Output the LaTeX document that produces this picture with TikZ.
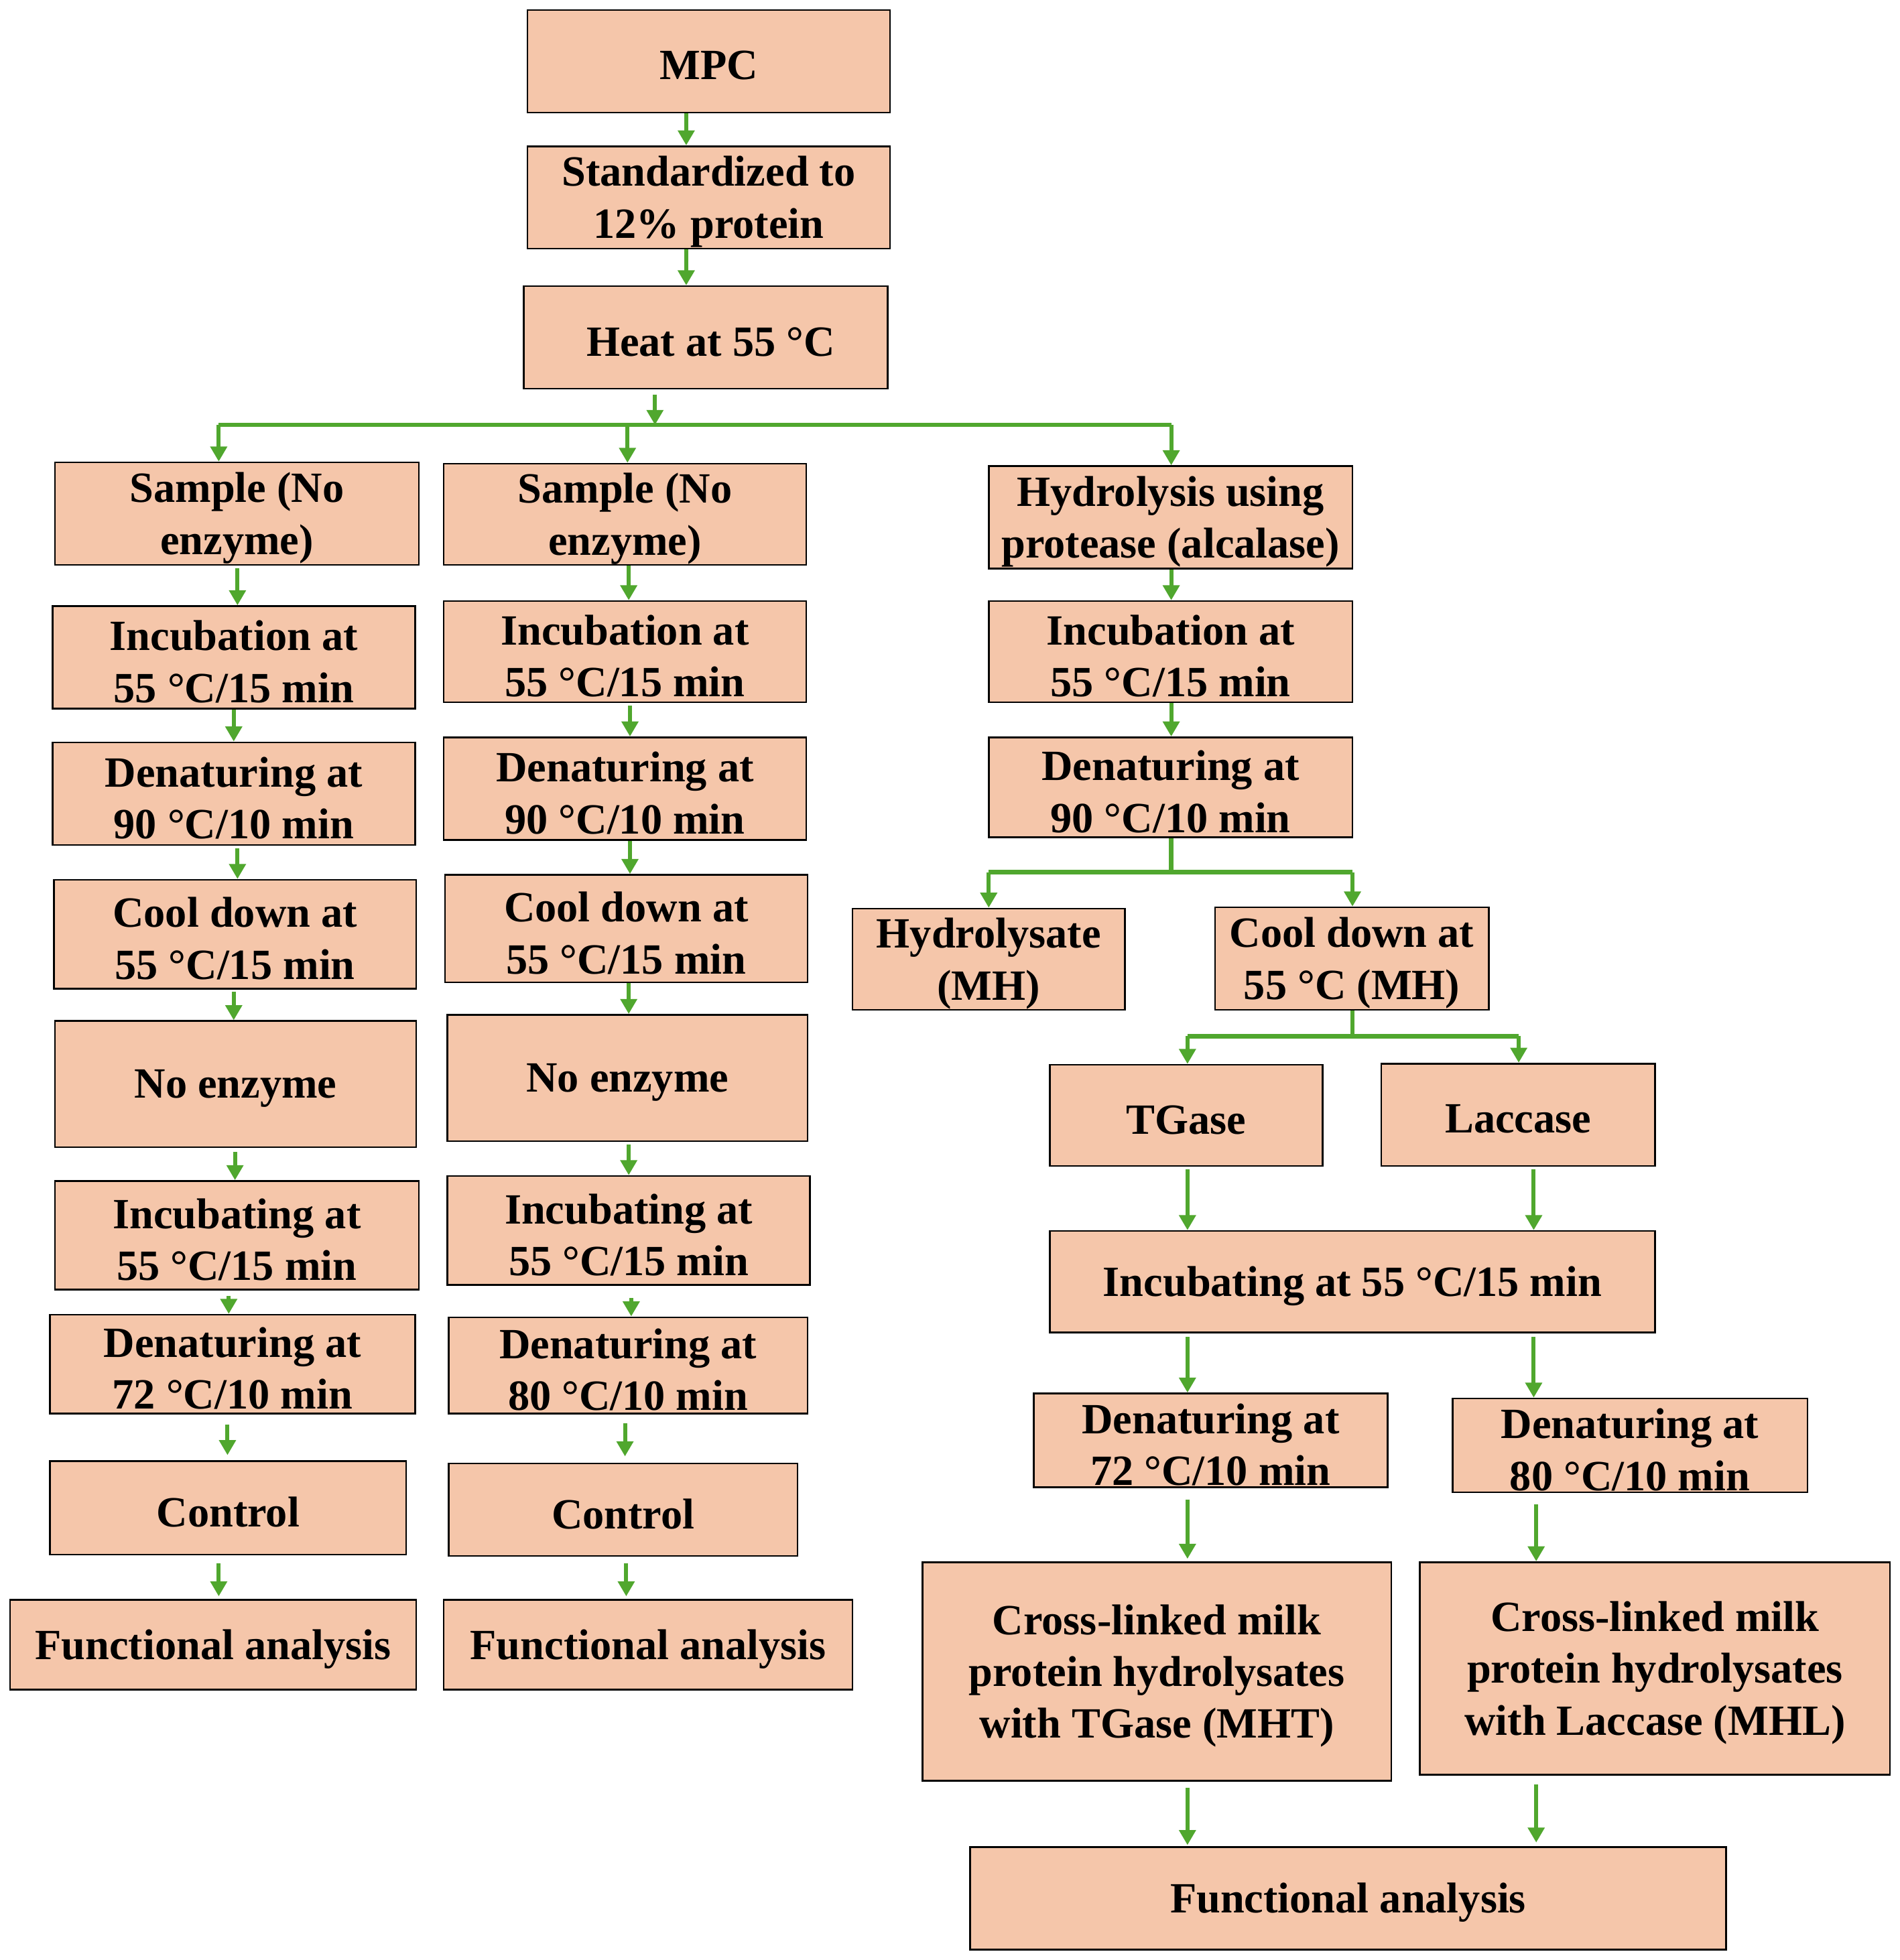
\documentclass[tikz,border=0pt]{standalone}
\usepackage{fontspec}
\setmainfont{Liberation Serif}
\usetikzlibrary{arrows.meta}
\definecolor{boxfill}{RGB}{245,198,170}
\definecolor{arrgreen}{RGB}{80,167,46}
\tikzset{
  box/.style={draw=black, line width=1.4pt, fill=boxfill, inner sep=0pt},
  txt/.style={inner sep=0pt, align=center, font=\fontsize{34.5}{41.5}\selectfont\bfseries},
  arr/.style={draw=arrgreen, line width=3.2pt, -{Triangle[width=13pt,length=12pt]}},
  gline/.style={draw=arrgreen, line width=3.6pt},
}
\newcommand{\bx}[6]{\node[box, minimum width=#4pt, minimum height=#5pt] (#1) at (#2,#3) {};
  \node[txt] (#1-t) at (#2,#3+3.5) {#6};}
\begin{document}
\begin{tikzpicture}[x=1pt,y=-1pt]
\useasboundingbox[fill=white] (0,0) rectangle (1520,1568.3);
% top
\bx{MPC}{567}{49}{290}{82}{MPC}
\bx{Std}{567}{158}{290}{82}{Standardized to\\12\% protein}
\bx{Heat}{564.5}{270}{291}{82}{\hspace*{8pt}Heat at 55 °C}
% column 1
\bx{Sa}{189.5}{411}{291}{82}{Sample (No\\enzyme)}
\bx{Ia}{187}{526}{290}{82}{Incubation at\\55 °C/15 min}
\bx{Da}{187}{635}{290}{82}{Denaturing at\\90 °C/10 min}
\bx{Ca}{188}{747.5}{290}{87}{Cool down at\\55 °C/15 min}
\bx{Na}{188.5}{867.5}{289}{101}{No enzyme}
\bx{Ja}{189.5}{988.5}{291}{87}{Incubating at\\55 °C/15 min}
\bx{Ea}{186}{1091.5}{292}{79}{Denaturing at\\72 °C/10 min}
\bx{Ka}{182.5}{1206.5}{285}{75}{Control}
\bx{Fa}{170.5}{1316}{325}{72}{Functional analysis}
% column 2
\bx{Sb}{500}{411.5}{290}{81}{Sample (No\\enzyme)}
\bx{Ib}{500}{521.5}{290}{81}{Incubation at\\55 °C/15 min}
\bx{Db}{500}{631}{290}{82}{Denaturing at\\90 °C/10 min}
\bx{Cb}{501}{743}{290}{86}{Cool down at\\55 °C/15 min}
\bx{Nb}{502}{862.5}{288}{101}{No enzyme}
\bx{Jb}{503}{984.5}{290}{87}{Incubating at\\55 °C/15 min}
\bx{Eb}{502.5}{1092.5}{287}{77}{Denaturing at\\80 °C/10 min}
\bx{Kb}{498.5}{1208}{279}{74}{Control}
\bx{Fb}{518.5}{1316}{327}{72}{Functional analysis}
% column 3
\bx{Hyd}{936.5}{414}{291}{82}{Hydrolysis using\\protease (alcalase)}
\bx{Ic}{936.5}{521.5}{291}{81}{Incubation at\\55 °C/15 min}
\bx{Dc}{936.5}{630}{291}{80}{Denaturing at\\90 °C/10 min}
\bx{MH}{791}{767.5}{218}{81}{Hydrolysate\\(MH)}
\bx{Cc}{1081.5}{767}{219}{82}{Cool down at\\55 °C (MH)}
\bx{TG}{949}{892.5}{218}{81}{TGase}
\bx{Lac}{1214.5}{892}{219}{82}{Laccase}
\bx{Id}{1082}{1025.5}{484}{81}{Incubating at 55 °C/15 min}
\bx{DT}{968.5}{1152.5}{283}{75}{Denaturing at\\72 °C/10 min}
\bx{DL}{1304}{1156.5}{284}{75}{Denaturing at\\80 °C/10 min}
\bx{MHT}{925.5}{1337.5}{375}{175}{Cross-linked milk\\protein hydrolysates\\with TGase (MHT)}
\bx{MHL}{1324}{1335}{376}{170}{Cross-linked milk\\protein hydrolysates\\with Laccase (MHL)}
\bx{Fc}{1078.5}{1519}{605}{82}{Functional analysis}
% top connectors
\draw[arr] (MPC.south -| 549,0) -- (Std.north -| 549,0);
\draw[arr] (Std.south -| 549,0) -- (Heat.north -| 549,0);
\coordinate (bl) at (175,340);
\coordinate (br) at (937,340);
\draw[arr, shorten <=4pt] (Heat.south -| 524,0) -- (524,340);
\draw[gline, line width=3pt] (bl) -- (br);
\draw[arr] (bl) -- (Sa.north -| bl);
\draw[arr] (502,341) -- (Sb.north -| 502,0);
\draw[arr] (br) -- (Hyd.north -| br);
% column 1
\draw[arr, shorten <=2pt] (Sa.south -| 190,0) -- (Ia.north -| 190,0);
\draw[arr] (Ia.south -| 187,0) -- (Da.north -| 187,0);
\draw[arr, shorten <=2pt] (Da.south -| 190,0) -- (Ca.north -| 190,0);
\draw[arr, shorten <=2pt] (Ca.south -| 187,0) -- (Na.north -| 187,0);
\draw[arr, shorten <=3pt] (Na.south -| 188,0) -- (Ja.north -| 188,0);
\draw[arr, shorten <=4pt] (Ja.south -| 183,0) -- (Ea.north -| 183,0);
\draw[arr, shorten <=8pt, shorten >=4pt] (Ea.south -| 182,0) -- (Ka.north -| 182,0);
\draw[arr, shorten <=6pt, shorten >=2pt] (Ka.south -| 175,0) -- (Fa.north -| 175,0);
% column 2
\draw[arr] (Sb.south -| 503,0) -- (Ib.north -| 503,0);
\draw[arr, shorten <=2pt] (Ib.south -| 504,0) -- (Db.north -| 504,0);
\draw[arr] (Db.south -| 504,0) -- (Cb.north -| 504,0);
\draw[arr] (Cb.south -| 503,0) -- (Nb.north -| 503,0);
\draw[arr, shorten <=2pt] (Nb.south -| 503,0) -- (Jb.north -| 503,0);
\draw[arr, shorten <=10pt] (Jb.south -| 505,0) -- (Eb.north -| 505,0);
\draw[arr, shorten <=7pt, shorten >=5pt] (Eb.south -| 500,0) -- (Kb.north -| 500,0);
\draw[arr, shorten <=5pt, shorten >=2pt] (Kb.south -| 501,0) -- (Fb.north -| 501,0);
% column 3
\draw[arr] (Hyd.south -| 937,0) -- (Ic.north -| 937,0);
\draw[arr] (Ic.south -| 937,0) -- (Dc.north -| 937,0);
\coordinate (j1) at (937,698);
\draw[gline] (Dc.south -| j1) -- (j1);
\draw[gline] (791,698) -- (1082,698);
\draw[arr] (791,698) -- (MH.north -| 791,0);
\draw[arr] (1082,698) -- (Cc.north -| 1082,0);
\coordinate (j2) at (1082,829);
\draw[gline] (Cc.south -| j2) -- (j2);
\draw[gline] (950,829) -- (1215,829);
\draw[arr] (950,829) -- (TG.north -| 950,0);
\draw[arr] (1215,829) -- (Lac.north -| 1215,0);
\draw[arr, shorten <=2pt] (TG.south -| 950,0) -- (Id.north -| 950,0);
\draw[arr, shorten <=2pt] (Lac.south -| 1227,0) -- (Id.north -| 1227,0);
\draw[arr, shorten <=3pt] (Id.south -| 950,0) -- (DT.north -| 950,0);
\draw[arr, shorten <=3pt] (Id.south -| 1227,0) -- (DL.north -| 1227,0);
\draw[arr, shorten <=9pt, shorten >=2pt] (DT.south -| 950,0) -- (MHT.north -| 950,0);
\draw[arr, shorten <=9pt] (DL.south -| 1229,0) -- (MHL.north -| 1229,0);
\draw[arr, shorten <=5pt, shorten >=1pt] (MHT.south -| 950,0) -- (Fc.north -| 950,0);
\draw[arr, shorten <=7pt, shorten >=3pt] (MHL.south -| 1229,0) -- (Fc.north -| 1229,0);
\end{tikzpicture}
\end{document}
